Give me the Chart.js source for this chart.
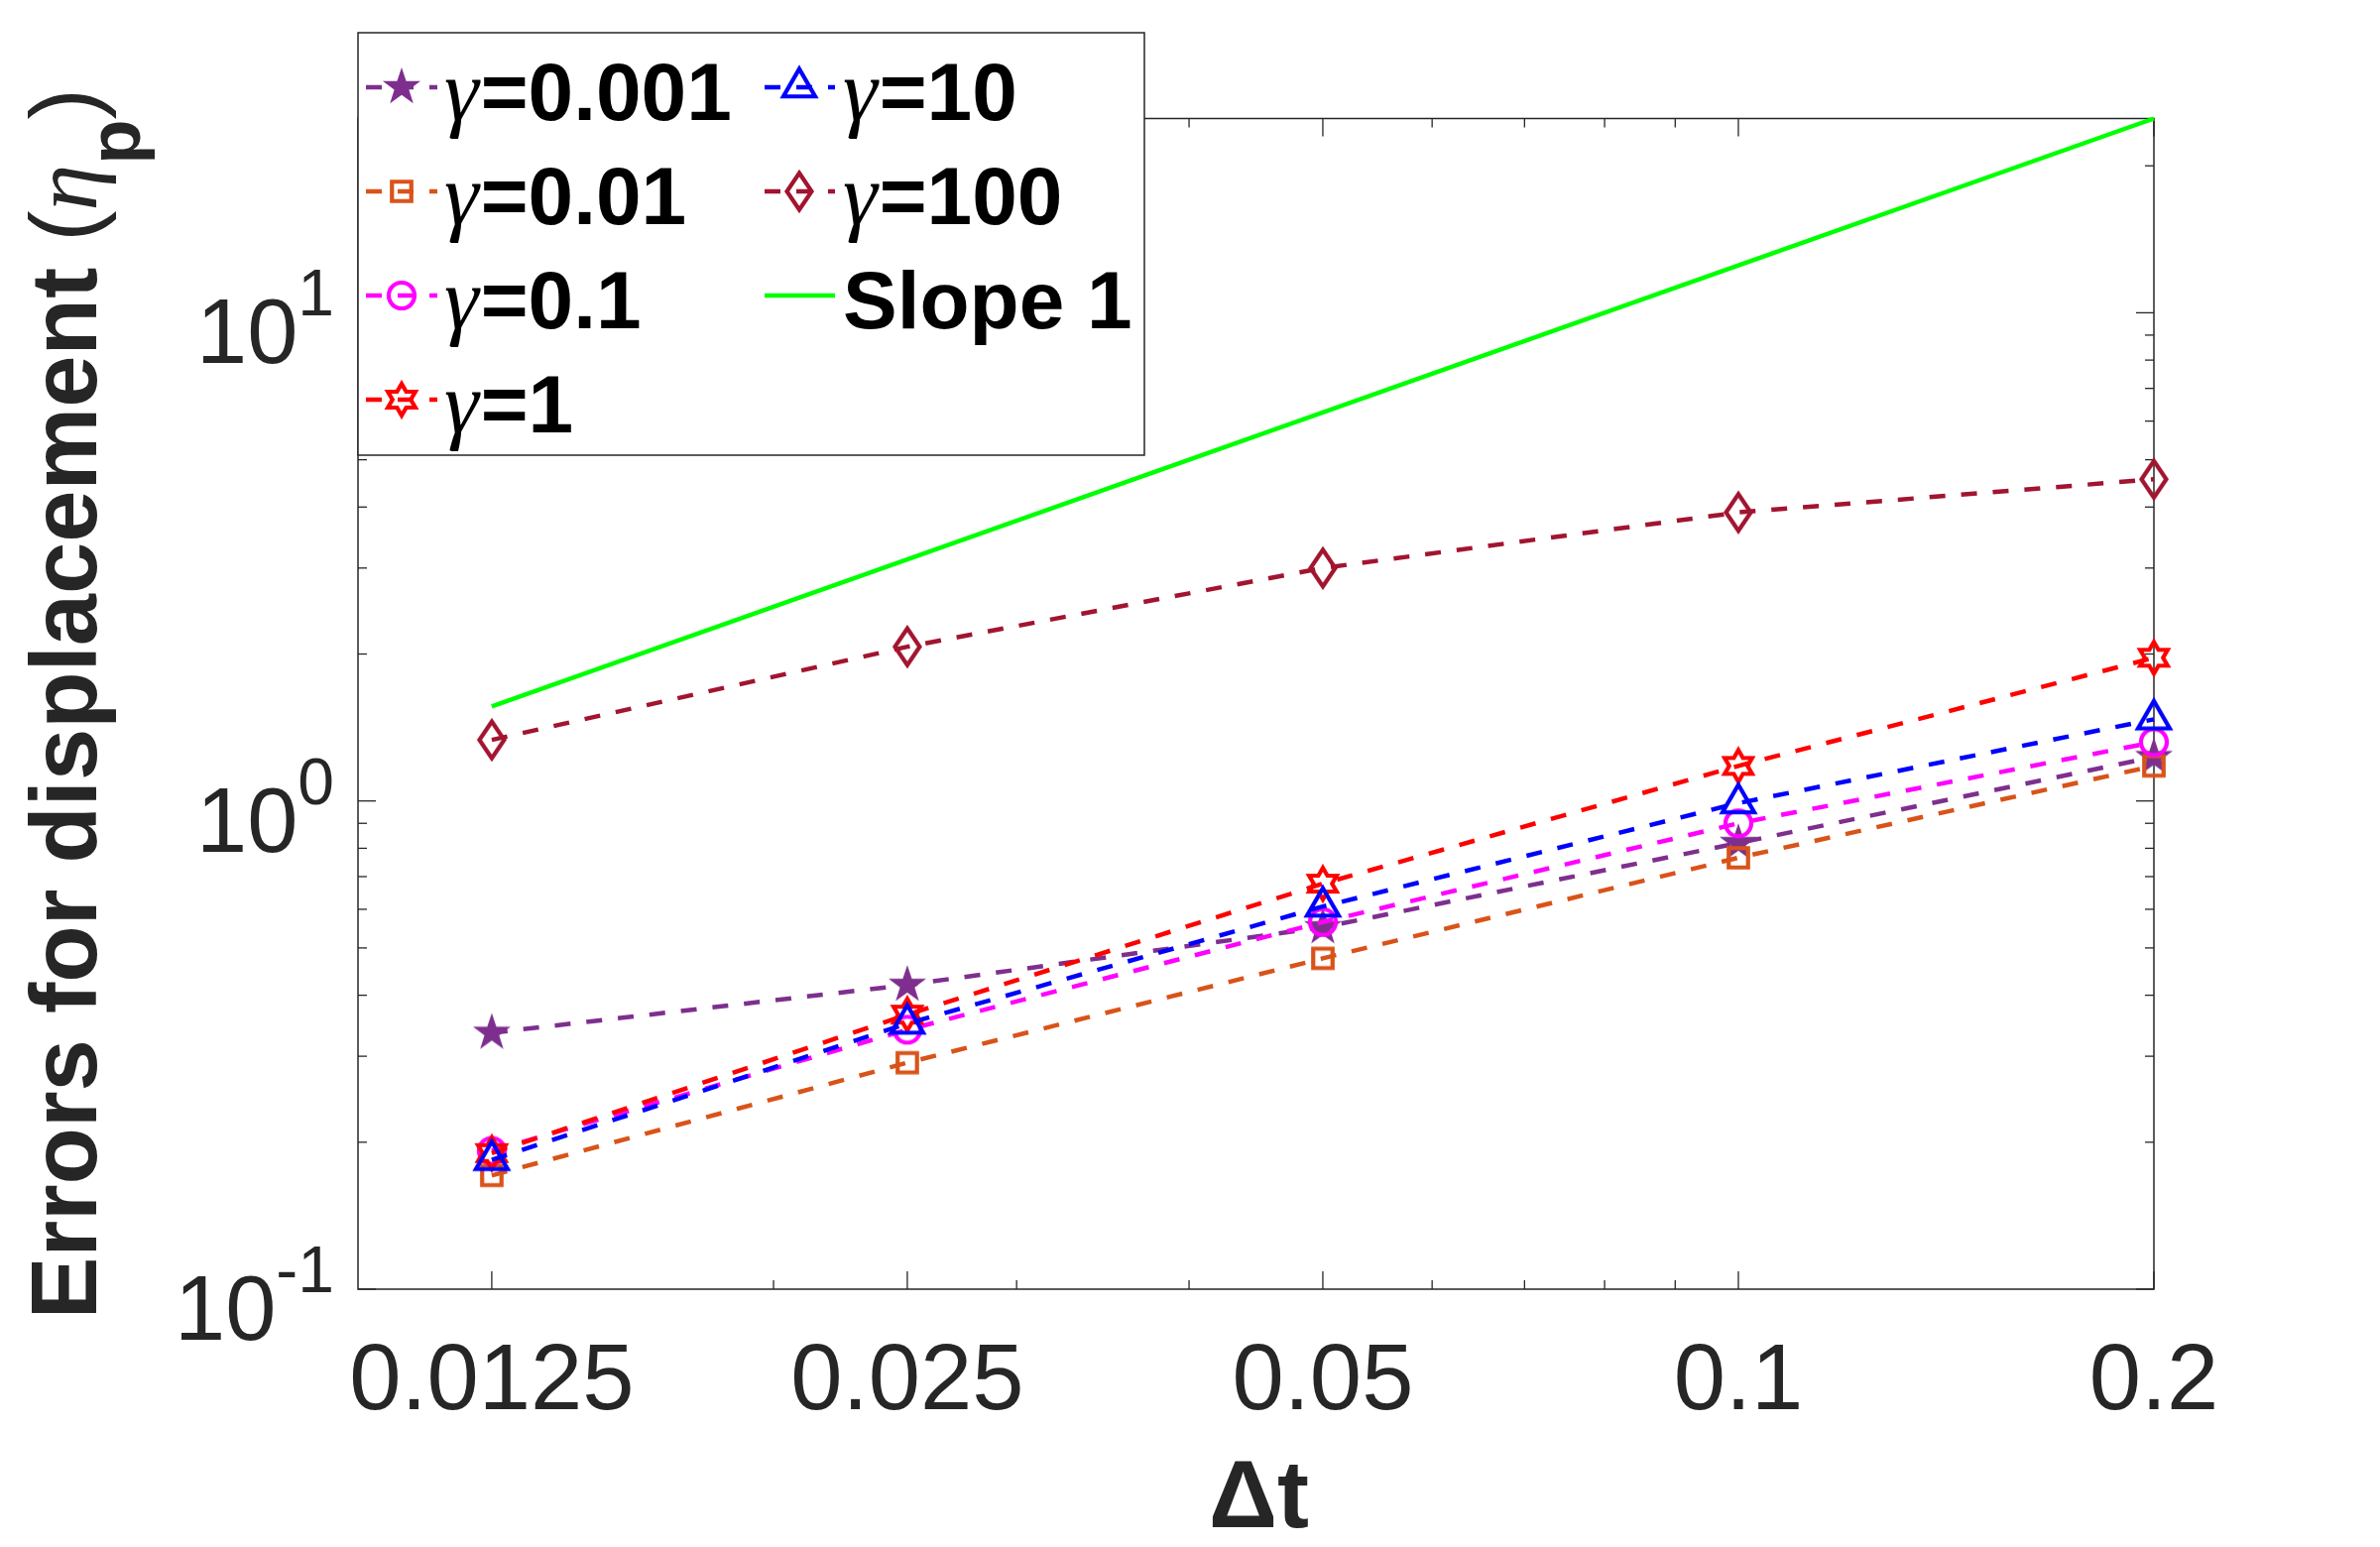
<!DOCTYPE html>
<html>
<head>
<meta charset="utf-8">
<script src="https://cdn.jsdelivr.net/npm/chart.js@4.4.1/dist/chart.umd.min.js"></script>
<style>
    html, body { margin: 0; padding: 0; background: #ffffff; }
    #wrap { width: 2400px; height: 1560px; position: relative; }
</style>
</head>
<body>
<div id="wrap"><canvas id="errChart"></canvas></div>
<script>
// =====================
// DATA
// =====================
const dt = [0.0125, 0.025, 0.05, 0.1, 0.2];

const err_g0001 = [0.335, 0.42, 0.551, 0.82, 1.23];
const err_g001  = [0.171, 0.291, 0.476, 0.765, 1.18];
const err_g01   = [0.192, 0.34, 0.565, 0.90, 1.32];
const err_g1    = [0.19, 0.365, 0.677, 1.18, 1.965];
const err_g10   = [0.184, 0.35, 0.608, 0.99, 1.47];
const err_g100  = [1.334, 2.07, 3.0, 3.9, 4.56];
const slopeOne  = [1.5625, 3.125, 6.25, 12.5, 25];

const seriesLabels = ['γ=0.001', 'γ=0.01', 'γ=0.1', 'γ=1', 'γ=10', 'γ=100', 'Slope 1'];

const xTickValues = [0.0125, 0.025, 0.05, 0.1, 0.2];
const xTickLabels = ['0.0125', '0.025', '0.05', '0.1', '0.2'];
const xMinorTicks = [0.02, 0.03, 0.04, 0.06, 0.07, 0.08, 0.09];

const yTickValues = [0.1, 1, 10];
const yTickExponents = ['-1', '0', '1'];
const yMinorTicks = [0.2, 0.3, 0.4, 0.5, 0.6, 0.7, 0.8, 0.9, 2, 3, 4, 5, 6, 7, 8, 9, 20];

// =====================
// MARKERS (MATLAB-like)
// =====================
function makeMarker(kind, color) {
    const c = document.createElement('canvas');
    c.width = 50;
    c.height = 50;
    const g = c.getContext('2d');
    g.translate(25, 25);
    g.strokeStyle = color;
    g.fillStyle = color;
    g.lineWidth = 4.2;
    g.lineJoin = 'miter';
    g.beginPath();
    if (kind === 'pentagram') {
        for (let k = 0; k < 10; k++) {
            const r = k % 2 ? 7.8 : 20;
            const a = -Math.PI / 2 + k * Math.PI / 5;
            g.lineTo(r * Math.cos(a), r * Math.sin(a));
        }
        g.closePath();
        g.fill();
    } else if (kind === 'square') {
        g.rect(-9.75, -9.75, 19.5, 19.5);
        g.stroke();
    } else if (kind === 'circle') {
        g.arc(0, 0, 13, 0, Math.PI * 2);
        g.stroke();
    } else if (kind === 'hexagram') {
        for (let k = 0; k < 12; k++) {
            const r = k % 2 ? 16 / Math.sqrt(3) : 16;
            const a = -Math.PI / 2 + k * Math.PI / 6;
            g.lineTo(r * Math.cos(a), r * Math.sin(a));
        }
        g.closePath();
        g.stroke();
    } else if (kind === 'triangle') {
        g.moveTo(0, -18.5);
        g.lineTo(16, 9.25);
        g.lineTo(-16, 9.25);
        g.closePath();
        g.stroke();
    } else if (kind === 'diamond') {
        g.moveTo(0, -18.5);
        g.lineTo(12.5, 0);
        g.lineTo(0, 18.5);
        g.lineTo(-12.5, 0);
        g.closePath();
        g.stroke();
    }
    return c;
}

const palette = ['#7E2F8E', '#D95319', '#FF00FF', '#FF0000', '#0000FF', '#A2142F', '#00FF00'];
const markerKinds = ['pentagram', 'square', 'circle', 'hexagram', 'triangle', 'diamond', null];
const seriesValues = [err_g0001, err_g001, err_g01, err_g1, err_g10, err_g100, slopeOne];

const datasets = seriesValues.map((vals, i) => {
    const isSlope = markerKinds[i] === null;
    return {
        label: seriesLabels[i],
        data: dt.map((x, j) => ({ x: x, y: vals[j] })),
        borderColor: palette[i],
        backgroundColor: 'transparent',
        borderWidth: 4.5,
        borderDash: isSlope ? [] : [16, 16],
        pointStyle: isSlope ? false : makeMarker(markerKinds[i], palette[i]),
        pointRadius: isSlope ? 0 : 16,
        pointHoverRadius: isSlope ? 0 : 16,
        tension: 0,
        fill: false,
        clip: false,
        order: seriesValues.length - i
    };
});

const SANS = '"Liberation Sans", Arial, sans-serif';
const SERIF = '"Liberation Serif", "Times New Roman", serif';
const AXIS_GRAY = '#262626';

// =====================
// AXES (inward ticks, box, labels)
// =====================
const matlabAxes = {
    id: 'matlabAxes',
    beforeDatasetsDraw(chart) {
        const ctx = chart.ctx;
        const a = chart.chartArea;
        const xs = chart.scales.x;
        const ys = chart.scales.y;

        ctx.save();
        ctx.strokeStyle = AXIS_GRAY;
        ctx.lineWidth = 1.5;
        ctx.strokeRect(a.left, a.top, a.right - a.left, a.bottom - a.top);

        ctx.lineWidth = 1.3;
        const line = (x1, y1, x2, y2) => {
            ctx.beginPath();
            ctx.moveTo(x1, y1);
            ctx.lineTo(x2, y2);
            ctx.stroke();
        };
        const tickX = (v, len) => {
            const px = xs.getPixelForValue(v);
            line(px, a.bottom, px, a.bottom - len);
            line(px, a.top, px, a.top + len);
        };
        const tickY = (v, len) => {
            const py = ys.getPixelForValue(v);
            line(a.left, py, a.left + len, py);
            line(a.right, py, a.right - len, py);
        };
        xTickValues.forEach(v => tickX(v, 18));
        xMinorTicks.forEach(v => tickX(v, 9));
        yTickValues.forEach(v => tickY(v, 18));
        yMinorTicks.forEach(v => tickY(v, 9));
        ctx.restore();
    },
    afterDraw(chart) {
        const ctx = chart.ctx;
        const a = chart.chartArea;
        const xs = chart.scales.x;
        const ys = chart.scales.y;

        ctx.save();
        ctx.fillStyle = AXIS_GRAY;

        // x tick labels
        ctx.font = '94px ' + SANS;
        ctx.textAlign = 'center';
        ctx.textBaseline = 'alphabetic';
        xTickValues.forEach((v, i) => {
            ctx.fillText(xTickLabels[i], xs.getPixelForValue(v), a.bottom + 121);
        });

        // y tick labels 10^n
        ctx.textAlign = 'left';
        yTickValues.forEach((v, i) => {
            const py = ys.getPixelForValue(v);
            ctx.font = '66px ' + SANS;
            const supW = ctx.measureText(yTickExponents[i]).width;
            ctx.font = '92px ' + SANS;
            const baseW = ctx.measureText('10').width;
            const right = a.left - 24;
            const x0 = right - supW - baseW;
            ctx.fillText('10', x0, py + 51);
            ctx.font = '66px ' + SANS;
            ctx.fillText(yTickExponents[i], x0 + baseW, py + 3);
        });

        // x axis title
        ctx.font = 'bold 96px ' + SANS;
        ctx.textAlign = 'center';
        ctx.fillText('Δt', (a.left + a.right) / 2 + 3, a.bottom + 240);

        // y axis title (rotated)
        const parts = [
            { t: 'Errors for displacement ', f: 'bold 94px ' + SANS, dy: 0 },
            { t: '(', f: '94px ' + SANS, dy: 0 },
            { t: 'η', f: 'italic 94px ' + SERIF, dy: 0 },
            { t: 'p', f: 'bold 74px ' + SANS, dy: 44 },
            { t: ')', f: '94px ' + SANS, dy: 0 }
        ];
        let total = 0;
        parts.forEach(p => { ctx.font = p.f; p.w = ctx.measureText(p.t).width; total += p.w; });
        ctx.translate(a.left - 264, (a.top + a.bottom) / 2);
        ctx.rotate(-Math.PI / 2);
        ctx.textAlign = 'left';
        let cx = -total / 2;
        parts.forEach(p => {
            ctx.font = p.f;
            ctx.fillText(p.t, cx, p.dy);
            cx += p.w;
        });
        ctx.restore();
    }
};

// =====================
// LEGEND (two columns, column-major)
// =====================
const matlabLegend = {
    id: 'matlabLegend',
    afterDraw(chart) {
        const ctx = chart.ctx;
        const a = chart.chartArea;
        const left = a.left;
        const top = a.top - 86.5;
        const w = 793;
        const h = 426;

        ctx.save();
        ctx.fillStyle = '#ffffff';
        ctx.fillRect(left, top, w, h);
        ctx.strokeStyle = AXIS_GRAY;
        ctx.lineWidth = 1.5;
        ctx.strokeRect(left, top, w, h);

        const rowY = [55, 160, 265, 370];
        const cols = [
            { line0: 8, line1: 80, mark: 44, text: 87 },
            { line0: 410, line1: 481, mark: 445, text: 489 }
        ];

        chart.data.datasets.forEach((ds, i) => {
            const col = cols[Math.floor(i / 4)];
            const y = top + rowY[i % 4];

            ctx.strokeStyle = ds.borderColor;
            ctx.lineWidth = ds.borderWidth;
            ctx.setLineDash(ds.borderDash);
            ctx.beginPath();
            ctx.moveTo(left + col.line0, y);
            ctx.lineTo(left + col.line1, y);
            ctx.stroke();
            ctx.setLineDash([]);

            if (ds.pointStyle) {
                const m = ds.pointStyle;
                ctx.drawImage(m, left + col.mark - m.width / 2, y - m.height / 2);
            }

            ctx.fillStyle = '#000000';
            ctx.textAlign = 'left';
            ctx.textBaseline = 'alphabetic';
            let tx = left + col.text;
            let label = ds.label;
            if (label.startsWith('γ')) {
                ctx.font = 'italic 88px ' + SERIF;
                ctx.fillText('γ', tx, y + 33);
                tx += ctx.measureText('γ').width + 2;
                label = label.slice(1);
            }
            ctx.font = 'bold 82px ' + SANS;
            ctx.fillText(label, tx, y + 33);
        });
        ctx.restore();
    }
};

// =====================
// CHART
// =====================
const ctx = document.getElementById('errChart').getContext('2d');
const errChart = new Chart(ctx, {
    type: 'line',
    data: { datasets: datasets },
    options: {
        responsive: true,
        maintainAspectRatio: false,
        animation: false,
        devicePixelRatio: 1,
        layout: { padding: { left: 361, right: 228, top: 119.5, bottom: 260 } },
        scales: {
            x: { type: 'logarithmic', min: 0.01, max: 0.2, display: false },
            y: { type: 'logarithmic', min: 0.1, max: 25, display: false }
        },
        plugins: {
            legend: { display: false },
            tooltip: { enabled: false }
        }
    },
    plugins: [matlabAxes, matlabLegend]
});
</script>
</body>
</html>
